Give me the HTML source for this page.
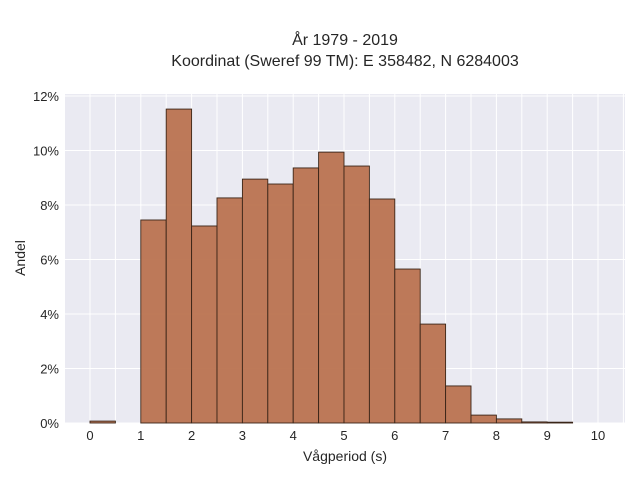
<!DOCTYPE html>
<html><head><meta charset="utf-8"><style>
body{margin:0;background:#fff;font-family:"Liberation Sans",sans-serif}
svg text{font-family:"Liberation Sans",sans-serif;fill:#262626}
</style></head><body>
<svg id="chart" width="640" height="480">
<text x="345" y="45" font-size="16" text-anchor="middle">År 1979 - 2019</text>
<text x="345" y="66" font-size="16" text-anchor="middle">Koordinat (Sweref 99 TM): E 358482, N 6284003</text>
<rect x="65" y="94" width="560" height="329" fill="#eaeaf2"/>
<g id="grid"></g><g id="bars"></g><g id="xt"></g><g id="yt"></g>
<text x="345" y="461" font-size="14" text-anchor="middle">Vågperiod (s)</text>
<text x="25" y="258" font-size="14" text-anchor="middle" transform="rotate(-90 25 258)">Andel</text>
</svg>
<script>
const binStarts=[0,0.5,1,1.5,2,2.5,3,3.5,4,4.5,5,5.5,6,6.5,7,7.5,8,8.5,9];
const shares=[0.07,0,7.45,11.52,7.23,8.26,8.95,8.77,9.36,9.94,9.43,8.22,5.65,3.63,1.36,0.29,0.15,0.04,0.03];
const xTicks=[0,1,2,3,4,5,6,7,8,9,10];
const yTicks=[0,2,4,6,8,10,12];
const binWidth=0.5;
const ns="http://www.w3.org/2000/svg";
const X=v=>90+v*50.8, Y=v=>423-v*27.25;
function mk(t,a,p){const e=document.createElementNS(ns,t);for(const k in a)e.setAttribute(k,a[k]);p.appendChild(e);return e;}
const grid=document.getElementById('grid');
for(let v=-0.5;v<=10.5;v+=0.5){if(X(v)<65||X(v)>625)continue;const l=mk('line',{x1:X(v),x2:X(v),y1:94,y2:423,stroke:'#fff','stroke-width':1},grid);

}
yTicks.forEach(v=>{const l=mk('line',{x1:65,x2:625,y1:Y(v),y2:Y(v),stroke:'#fff','stroke-width':1},grid);

});
const bars=document.getElementById('bars');
binStarts.forEach((s,i)=>{if(shares[i]<=0)return;const r=mk('rect',{x:X(s),y:Y(shares[i]),width:X(s+binWidth)-X(s),height:Y(0)-Y(shares[i]),fill:'#bb7350','fill-opacity':0.95,stroke:'#3a2518','stroke-width':0.9},bars);

});
const xt=document.getElementById('xt');
xTicks.forEach(v=>{const t=mk('text',{x:X(v),y:440,'font-size':13,'text-anchor':'middle'},xt);t.textContent=v;

});
const yt=document.getElementById('yt');
yTicks.forEach(v=>{const t=mk('text',{x:59,y:Y(v)+5,'font-size':13,'text-anchor':'end'},yt);t.textContent=v+'%';

});
</script>
</body></html>
